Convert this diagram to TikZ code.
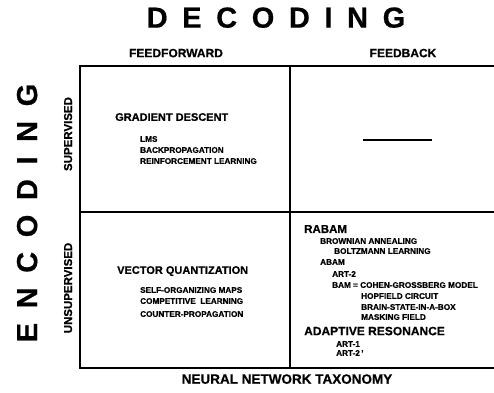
\documentclass[tikz,border=0pt]{standalone}
\usepackage{fontspec}
\setmainfont{Liberation Sans}[BoldFeatures={FakeBold=0.6}]
\newcommand\lettergap{\hspace{14.6pt}}
\begin{document}
\begin{tikzpicture}[x=1pt,y=-1pt,
  border/.style={line width=1.1pt,line cap=rect},
  title/.style={inner sep=0pt,text depth=0pt,font=\bfseries\fontsize{29}{29}\selectfont},
  head/.style={inner sep=0pt,text depth=0pt,font=\bfseries\fontsize{12}{12}\selectfont},
  side/.style={inner sep=0pt,text depth=0pt,rotate=90,font=\bfseries\fontsize{11.5}{11.5}\selectfont},
  group/.style={anchor=west,inner sep=0pt,text depth=0pt,font=\bfseries\fontsize{11}{11}\selectfont},
  biggroup/.style={group,font=\bfseries\fontsize{12}{12}\selectfont},
  item/.style={anchor=west,inner sep=0pt,text depth=0pt,font=\bfseries\fontsize{8.2}{8.2}\selectfont},
]
\useasboundingbox (0,0) rectangle (494,392);

% grid corners
\coordinate (tl) at (80,66);
\coordinate (tm) at (290,66);
\coordinate (tr) at (494,66);
\coordinate (ml) at (80,212);
\coordinate (mr) at (494,212);
\coordinate (bl) at (80,368);
\coordinate (bm) at (290,368);
\coordinate (br) at (494,368);

% grid lines
\draw[border] (tr) -- (tl) -- (bl) -- (br);
\draw[border] (ml) -- (mr);
\draw[border,line width=1.6pt] (tm) -- (bm);

% axis titles
\node[title] (decoding) at (276,17.5)
  {D\lettergap E\lettergap C\lettergap O\lettergap D\lettergap I\lettergap N\lettergap G};
\node[title,rotate=90] (encoding) at (27,213)
  {E\lettergap N\lettergap C\lettergap O\lettergap D\lettergap I\lettergap N\lettergap G};

% column and row headings
\node[head] (ff) at (176,53) {FEEDFORWARD};
\node[head] (fb) at (403,53) {FEEDBACK};
\node[side] (sup) at (68,134) {SUPERVISED};
\node[side] (unsup) at (68,288) {UNSUPERVISED};
\node[head,font=\bfseries\fontsize{13.5}{13.5}\selectfont] (taxonomy) at (287,379) {NEURAL NETWORK TAXONOMY};

% feedforward, supervised
\node[group] (gd) at (115,117) {GRADIENT DESCENT};
\node[item] (lms) at (140,139) {LMS};
\node[item] (bp) at (140,150) {BACKPROPAGATION};
\node[item] (rl) at (140,161) {REINFORCEMENT LEARNING};

% feedback, supervised: empty class
\coordinate (dashl) at (363,140);
\coordinate (dashr) at (432,140);
\draw[line width=1.2pt] (dashl) -- (dashr);

% feedforward, unsupervised
\node[group] (vq) at (117,270) {VECTOR QUANTIZATION};
\node[item] (som) at (140,290) {SELF-ORGANIZING MAPS};
\node[item] (cl) at (140,301) {COMPETITIVE\ \ LEARNING};
\node[item] (cp) at (140,314) {COUNTER-PROPAGATION};

% feedback, unsupervised
\node[group,font=\bfseries\fontsize{11.5}{11.5}\selectfont] (rabam) at (304,229) {RABAM};
\node[item] (ba) at (320,241) {BROWNIAN ANNEALING};
\node[item] (bz) at (334,251) {BOLTZMANN LEARNING};
\node[item] (abam) at (320,262) {ABAM};
\node[item] (art2a) at (332,274) {ART-2};
\node[item] (bam) at (332,285) {BAM = COHEN-GROSSBERG MODEL};
\node[item] (hop) at (361,296) {HOPFIELD CIRCUIT};
\node[item] (bsb) at (361,307) {BRAIN-STATE-IN-A-BOX};
\node[item] (mask) at (361,317) {MASKING FIELD};
\node[biggroup] (ar) at (304,331) {ADAPTIVE RESONANCE};
\node[item] (art1) at (336,344) {ART-1};
\node[item] (art2b) at (336,353) {ART-2\,'};
\end{tikzpicture}
\end{document}
